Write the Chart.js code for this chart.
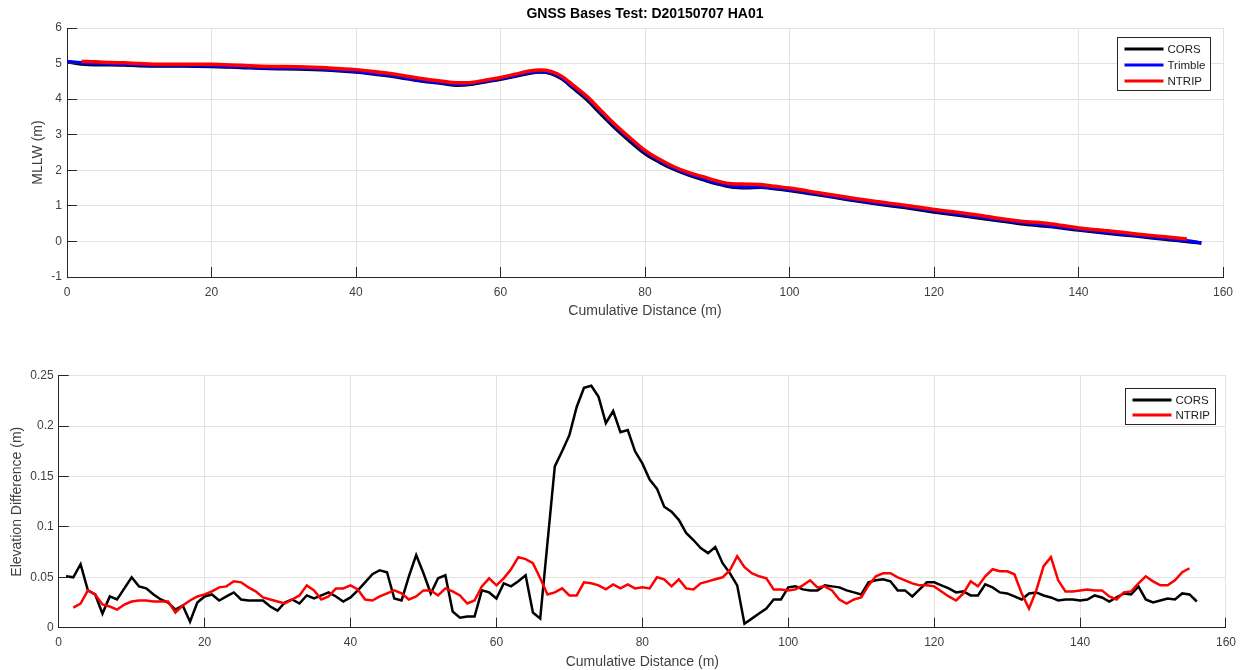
<!DOCTYPE html>
<html>
<head>
<meta charset="utf-8">
<title>GNSS Bases Test: D20150707 HA01</title>
<script src="https://cdn.jsdelivr.net/npm/chart.js@4.4.1/dist/chart.umd.min.js"></script>
<style>
  html, body { margin: 0; padding: 0; background: #fff; }
  #wrap { position: relative; width: 1244px; height: 670px; }
  canvas { position: absolute; left: 0; }
  #profileChart { top: 0; }
  #diffChart { top: 335px; }
</style>
</head>
<body>
<div id="wrap">
  <canvas id="profileChart" width="1244" height="335"></canvas>
  <canvas id="diffChart" width="1244" height="335"></canvas>
</div>
<script>
// Surveyed profile (MLLW) along the line, one value per station
const profileDist = [0, 2, 4, 6, 8, 10, 13, 16, 20, 24, 28, 32, 36, 40, 43, 46, 49, 52, 54, 56,
  58, 60, 62, 64, 65.5, 67, 68.5, 70, 72, 74, 76, 78, 80, 82, 84, 86, 88, 90, 92, 94,
  96, 98, 100, 104, 108, 112, 116, 120, 124, 128, 132, 136, 140, 144, 148, 152, 155, 157];
const profileCors = [5.05, 4.99, 4.97, 4.97, 4.96, 4.94, 4.93, 4.93, 4.92, 4.89, 4.86, 4.85, 4.82, 4.76, 4.69, 4.61, 4.51, 4.44, 4.39, 4.42,
  4.49, 4.56, 4.64, 4.73, 4.76, 4.72, 4.57, 4.32, 3.98, 3.56, 3.16, 2.8, 2.47, 2.23, 2.03, 1.87, 1.74, 1.62, 1.53, 1.51,
  1.52, 1.48, 1.43, 1.31, 1.18, 1.06, 0.95, 0.83, 0.72, 0.61, 0.5, 0.42, 0.32, 0.23, 0.15, 0.06, 0.0, -0.05];
const profileTrimble = [5.06, 5.02, 5.0, 4.99, 4.98, 4.96, 4.95, 4.95, 4.94, 4.91, 4.88, 4.87, 4.84, 4.78, 4.71, 4.63, 4.53, 4.46, 4.42, 4.44,
  4.51, 4.58, 4.66, 4.75, 4.78, 4.74, 4.6, 4.36, 4.03, 3.62, 3.22, 2.86, 2.52, 2.27, 2.06, 1.9, 1.77, 1.65, 1.56, 1.53,
  1.54, 1.5, 1.45, 1.33, 1.2, 1.08, 0.98, 0.86, 0.75, 0.64, 0.53, 0.44, 0.34, 0.25, 0.17, 0.08, 0.02, -0.04];
const profileNtrip = [null, 5.06, 5.05, 5.03, 5.02, 5.0, 4.98, 4.98, 4.98, 4.95, 4.92, 4.91, 4.88, 4.83, 4.76, 4.68, 4.58, 4.5, 4.46, 4.47,
  4.54, 4.61, 4.7, 4.79, 4.82, 4.78, 4.64, 4.4, 4.07, 3.66, 3.26, 2.9, 2.56, 2.31, 2.1, 1.94, 1.82, 1.7, 1.62, 1.61,
  1.6, 1.55, 1.5, 1.37, 1.24, 1.12, 1.02, 0.9, 0.8, 0.68, 0.57, 0.5, 0.38, 0.3, 0.21, 0.13, 0.07, null];

// Elevation difference from the Trimble base, stations every metre
const diffDist = [1, 2, 3, 4, 5, 6, 7, 8, 9, 10, 11, 12, 13, 14, 15, 16, 17, 18, 19, 20,
  21, 22, 23, 24, 25, 26, 27, 28, 29, 30, 31, 32, 33, 34, 35, 36, 37, 38, 39, 40,
  41, 42, 43, 44, 45, 46, 47, 48, 49, 50, 51, 52, 53, 54, 55, 56, 57, 58, 59, 60,
  61, 62, 63, 64, 65, 66, 67, 68, 69, 70, 71, 72, 73, 74, 75, 76, 77, 78, 79, 80,
  81, 82, 83, 84, 85, 86, 87, 88, 89, 90, 91, 92, 93, 94, 95, 96, 97, 98, 99, 100,
  101, 102, 103, 104, 105, 106, 107, 108, 109, 110, 111, 112, 113, 114, 115, 116, 117, 118, 119, 120,
  121, 122, 123, 124, 125, 126, 127, 128, 129, 130, 131, 132, 133, 134, 135, 136, 137, 138, 139, 140,
  141, 142, 143, 144, 145, 146, 147, 148, 149, 150, 151, 152, 153, 154, 155, 156];
const diffCors = [0.051, 0.050, 0.063, 0.037, 0.033, 0.014, 0.031, 0.028, 0.039, 0.050, 0.041, 0.039, 0.033, 0.028, 0.025, 0.018, 0.022, 0.006, 0.025, 0.031,
  0.033, 0.027, 0.031, 0.035, 0.028, 0.027, 0.027, 0.027, 0.021, 0.017, 0.025, 0.028, 0.024, 0.032, 0.029, 0.032, 0.035, 0.031, 0.026, 0.030,
  0.037, 0.045, 0.053, 0.057, 0.055, 0.029, 0.027, 0.051, 0.072, 0.054, 0.034, 0.049, 0.052, 0.016, 0.010, 0.011, 0.011, 0.037, 0.035, 0.029,
  0.044, 0.041, 0.046, 0.052, 0.015, 0.009, null, 0.160, 0.175, 0.191, 0.219, 0.238, 0.240, 0.229, 0.203, 0.215, 0.194, 0.196, 0.175, 0.163,
  0.147, 0.138, 0.120, 0.115, 0.107, 0.094, 0.087, 0.079, 0.074, 0.080, 0.064, 0.054, 0.042, 0.004, 0.009, 0.014, 0.019, 0.028, 0.028, 0.040,
  0.041, 0.038, 0.037, 0.037, 0.042, 0.041, 0.040, 0.037, 0.035, 0.033, 0.045, 0.047, 0.048, 0.046, 0.037, 0.037, 0.031, 0.038, 0.045, 0.045,
  0.042, 0.039, 0.035, 0.036, 0.032, 0.032, 0.043, 0.040, 0.035, 0.034, 0.031, 0.028, 0.034, 0.035, 0.032, 0.030, 0.027, 0.028, 0.028, 0.027,
  0.028, 0.032, 0.030, 0.026, 0.030, 0.034, 0.033, 0.041, 0.028, 0.025, 0.027, 0.029, 0.028, 0.034, 0.033, 0.026];
const diffNtrip = [null, 0.020, 0.024, 0.037, 0.033, 0.023, 0.021, 0.018, 0.023, 0.026, 0.027, 0.027, 0.026, 0.026, 0.026, 0.015, 0.022, 0.027, 0.031, 0.033,
  0.036, 0.040, 0.041, 0.046, 0.045, 0.040, 0.036, 0.030, 0.028, 0.026, 0.024, 0.028, 0.032, 0.042, 0.037, 0.028, 0.031, 0.039, 0.039, 0.042,
  0.038, 0.028, 0.027, 0.031, 0.034, 0.037, 0.034, 0.028, 0.031, 0.037, 0.037, 0.032, 0.039, 0.036, 0.032, 0.024, 0.027, 0.041, 0.049, 0.042,
  0.049, 0.058, 0.070, 0.068, 0.064, 0.049, 0.033, 0.035, 0.039, 0.032, 0.032, 0.045, 0.044, 0.042, 0.038, 0.043, 0.039, 0.043, 0.039, 0.040,
  0.039, 0.050, 0.048, 0.041, 0.048, 0.039, 0.038, 0.044, 0.046, 0.048, 0.050, 0.057, 0.071, 0.060, 0.054, 0.051, 0.049, 0.038, 0.038, 0.037,
  0.038, 0.042, 0.047, 0.040, 0.041, 0.037, 0.028, 0.024, 0.028, 0.030, 0.042, 0.051, 0.054, 0.054, 0.050, 0.047, 0.044, 0.042, 0.042, 0.041,
  0.036, 0.031, 0.027, 0.034, 0.046, 0.041, 0.051, 0.058, 0.056, 0.056, 0.053, 0.034, 0.019, 0.037, 0.061, 0.070, 0.047, 0.036, 0.036, 0.037,
  0.038, 0.037, 0.037, 0.031, 0.028, 0.035, 0.036, 0.044, 0.051, 0.046, 0.042, 0.042, 0.047, 0.055, 0.059, null];

const distTicks = [0, 20, 40, 60, 80, 100, 120, 140, 160];
const mllwTicks = [-1, 0, 1, 2, 3, 4, 5, 6];
const diffTicks = [0, 0.05, 0.1, 0.15, 0.2, 0.25];

const FONT = "'Liberation Sans', Arial, Helvetica, sans-serif";
const AXIS = "#262626";
const GRID = "#e2e2e2";
const TEXT = "#404040";

function points(xs, ys) {
  return xs.map((x, i) => ({ x: x, y: ys[i] }));
}

// inward tick marks on the left and bottom axes
const tickMarks = {
  id: "tickMarks",
  afterDraw(chart) {
    const { ctx, chartArea: a, scales } = chart;
    ctx.save();
    ctx.strokeStyle = AXIS;
    ctx.lineWidth = 1;
    ctx.beginPath();
    scales.x.ticks.forEach((t) => {
      const px = Math.floor(scales.x.getPixelForValue(t.value)) + 0.5;
      ctx.moveTo(px, a.bottom);
      ctx.lineTo(px, a.bottom - 10);
    });
    scales.y.ticks.forEach((t) => {
      const py = Math.floor(scales.y.getPixelForValue(t.value)) + 0.5;
      ctx.moveTo(a.left, py);
      ctx.lineTo(a.left + 10, py);
    });
    ctx.stroke();
    ctx.restore();
  },
};

// boxed legend inside the top right corner of the plot
const boxLegend = {
  id: "boxLegend",
  afterDraw(chart, args, opts) {
    const { ctx, chartArea: a } = chart;
    const sets = chart.data.datasets;
    ctx.save();
    ctx.font = "11.5px " + FONT;
    const textW = Math.max(...sets.map((d) => ctx.measureText(d.label).width));
    const w = Math.round(7 + 39 + 4 + textW + 5);
    const h = 21 + (sets.length - 1) * opts.rowHeight;
    const x0 = Math.round(a.right - opts.right - w) + 0.5;
    const y0 = Math.round(a.top + opts.top) + 0.5;
    ctx.fillStyle = "#fff";
    ctx.fillRect(x0, y0, w, h);
    ctx.strokeStyle = AXIS;
    ctx.lineWidth = 1;
    ctx.strokeRect(x0, y0, w, h);
    ctx.textAlign = "left";
    ctx.textBaseline = "middle";
    sets.forEach((d, i) => {
      const cy = Math.round(y0 + 11 + i * opts.rowHeight);
      ctx.strokeStyle = d.borderColor;
      ctx.lineWidth = 3;
      ctx.beginPath();
      ctx.moveTo(x0 + 7, cy);
      ctx.lineTo(x0 + 46, cy);
      ctx.stroke();
      ctx.fillStyle = "#222";
      ctx.fillText(d.label, x0 + 50, cy + 0.5);
    });
    ctx.restore();
  },
};

const panelTitle = {
  id: "panelTitle",
  afterDraw(chart, args, opts) {
    const { ctx, chartArea: a } = chart;
    ctx.save();
    ctx.font = "bold 14px " + FONT;
    ctx.fillStyle = "#000";
    ctx.textAlign = "center";
    ctx.textBaseline = "middle";
    ctx.fillText(opts.text, (a.left + a.right) / 2, a.top - 14);
    ctx.restore();
  },
};

function xAxis(height) {
  return {
    type: "linear",
    min: 0,
    max: 160,
    afterBuildTicks: (s) => { s.ticks = distTicks.map((v) => ({ value: v })); },
    afterFit: (s) => { s.height = height; },
    grid: { color: GRID, drawTicks: false },
    border: { color: AXIS },
    ticks: { padding: 8, color: TEXT, font: { family: FONT, size: 12 }, callback: (v) => String(v) },
    title: { display: true, text: "Cumulative Distance (m)", color: TEXT, padding: 0,
      font: { family: FONT, size: 14, lineHeight: 1 } },
  };
}

function yAxis(min, max, tickList, width, label) {
  return {
    type: "linear",
    min: min,
    max: max,
    afterBuildTicks: (s) => { s.ticks = tickList.map((v) => ({ value: v })); },
    afterFit: (s) => { s.width = width; },
    grid: { color: GRID, drawTicks: false },
    border: { color: AXIS },
    ticks: { padding: 5, color: TEXT, font: { family: FONT, size: 12 }, callback: (v) => String(v) },
    title: { display: true, text: label, color: TEXT, padding: 0,
      font: { family: FONT, size: 14, lineHeight: 1 } },
  };
}

const common = {
  responsive: false,
  animation: false,
  devicePixelRatio: 1,
  events: [],
  elements: { point: { radius: 0 } },
};

// top panel: elevation profile from each base
new Chart(document.getElementById("profileChart"), {
  type: "line",
  data: {
    datasets: [
      { label: "CORS", data: points(profileDist, profileCors), borderColor: "#000000", order: 3 },
      { label: "Trimble", data: points(profileDist, profileTrimble), borderColor: "#0000ff", order: 2 },
      { label: "NTRIP", data: points(profileDist, profileNtrip), borderColor: "#ff0000", order: 1 },
    ],
  },
  options: {
    ...common,
    layout: { padding: { top: 28, right: 21, bottom: 17, left: 31 } },
    elements: {
      point: { radius: 0 },
      line: { borderWidth: 3.5, cubicInterpolationMode: "monotone" },
    },
    plugins: {
      legend: { display: false },
      tooltip: { enabled: false },
      panelTitle: { text: "GNSS Bases Test: D20150707 HA01" },
      boxLegend: { right: 13, top: 9, rowHeight: 16 },
    },
    scales: {
      x: xAxis(41),
      y: yAxis(-1, 6, mllwTicks, 36, "MLLW (m)"),
    },
  },
  plugins: [tickMarks, boxLegend, panelTitle],
});

// bottom panel: difference from Trimble
new Chart(document.getElementById("diffChart"), {
  type: "line",
  data: {
    datasets: [
      { label: "CORS", data: points(diffDist, diffCors), borderColor: "#000000", order: 2, spanGaps: true },
      { label: "NTRIP", data: points(diffDist, diffNtrip), borderColor: "#ff0000", order: 1 },
    ],
  },
  options: {
    ...common,
    layout: { padding: { top: 40.7, right: 15, bottom: 1, left: 10.5 } },
    elements: {
      point: { radius: 0 },
      line: { borderWidth: 2.5, tension: 0 },
    },
    plugins: {
      legend: { display: false },
      tooltip: { enabled: false },
      boxLegend: { right: 11, top: 12, rowHeight: 15 },
    },
    scales: {
      x: xAxis(41.3),
      y: yAxis(0, 0.25, diffTicks, 48.2, "Elevation Difference (m)"),
    },
  },
  plugins: [tickMarks, boxLegend],
});
</script>
</body>
</html>
